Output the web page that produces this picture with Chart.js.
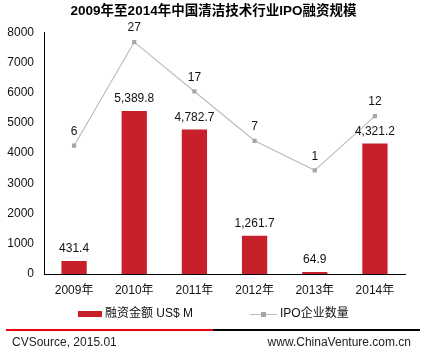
<!DOCTYPE html>
<html>
<head>
<meta charset="utf-8">
<script src="https://cdn.jsdelivr.net/npm/chart.js@4.4.1/dist/chart.umd.min.js"></script>
<style>
  body { margin: 0; background: #fff; }
  #wrap { width: 427px; height: 353px; }
</style>
</head>
<body>
<div id="wrap"><canvas id="myChart" width="427" height="353"></canvas></div>
<script>
  'use strict'

  const years = ['2009年', '2010年', '2011年', '2012年', '2013年', '2014年'];
  const amounts = [431.4, 5389.8, 4782.7, 1261.7, 64.9, 4321.2];
  const ipoCounts = [6, 27, 17, 7, 1, 12];
  const yTicks = [0, 1000, 2000, 3000, 4000, 5000, 6000, 7000, 8000];

  const FONT = "'Liberation Sans', Arial, 'Noto Sans CJK SC', sans-serif";
  const RED = '#C8202A';
  const GREY_LINE = '#BDBDBD';
  const GREY_DOT = '#A6A6A6';

  // value labels, legend and footer drawn on top of the chart
  const extras = {
    id: 'extras',
    afterDatasetsDraw(chart) {
      const c = chart.ctx;
      c.save();
      c.font = '12px ' + FONT;
      c.fillStyle = '#111';
      c.textAlign = 'center';
      c.textBaseline = 'middle';
      chart.getDatasetMeta(0).data.forEach((el, i) => {
        const txt = amounts[i].toLocaleString('en-US', { minimumFractionDigits: 1 });
        c.fillText(txt, el.x, el.y - 12);
      });
      chart.getDatasetMeta(1).data.forEach((el, i) => {
        c.fillText(String(ipoCounts[i]), el.x, el.y - 14);
      });
      c.restore();
    },
    afterDraw(chart) {
      const c = chart.ctx;
      const W = chart.width;
      c.save();

      // legend
      c.font = '12px ' + FONT;
      c.textBaseline = 'middle';
      const ly = 314;
      const t1 = chart.data.datasets[0].label;
      const t2 = chart.data.datasets[1].label;
      const w1 = 24 + 3 + c.measureText(t1).width;
      const w2 = 27 + 3 + c.measureText(t2).width;
      const gap = 57;
      let x = Math.round((W - (w1 + gap + w2)) / 2);
      c.fillStyle = RED;
      c.fillRect(x, ly - 3, 24, 6);
      c.fillStyle = '#111';
      c.textAlign = 'left';
      c.fillText(t1, x + 27, ly);
      x += w1 + gap;
      c.strokeStyle = GREY_LINE;
      c.lineWidth = 1;
      c.beginPath();
      c.moveTo(x, ly + 0.5);
      c.lineTo(x + 27, ly + 0.5);
      c.stroke();
      c.fillStyle = GREY_DOT;
      c.fillRect(x + 11, ly - 2, 5, 5);
      c.fillStyle = '#111';
      c.fillText(t2, x + 30, ly);

      // footer
      c.fillStyle = '#F0000C';
      c.fillRect(6, 329, 207, 2);
      c.fillStyle = '#000';
      c.fillRect(213, 329, 207, 2);
      c.fillStyle = '#222';
      c.textAlign = 'left';
      c.fillText('CVSource, 2015.01', 12, 343);
      c.textAlign = 'right';
      c.fillText('www.ChinaVenture.com.cn', 411, 343);
      c.restore();
    }
  };

  const ctx = document.getElementById('myChart');

  new Chart(ctx, {
    type: 'bar',
    data: {
      labels: years,
      datasets: [{
        type: 'bar',
        label: '融资金额 US$ M',
        data: amounts,
        backgroundColor: RED,
        barPercentage: 0.84,
        categoryPercentage: 0.5,
        yAxisID: 'y'
      }, {
        type: 'line',
        label: 'IPO企业数量',
        data: ipoCounts,
        borderColor: GREY_LINE,
        borderWidth: 1.2,
        pointStyle: 'rect',
        pointRadius: 3,
        pointBackgroundColor: GREY_DOT,
        pointBorderColor: GREY_DOT,
        pointBorderWidth: 0,
        tension: 0,
        yAxisID: 'y1'
      }]
    },
    options: {
      responsive: false,
      animation: false,
      events: [],
      layout: {
        padding: { left: 0, right: 0, top: 0, bottom: 55 }
      },
      scales: {
        x: {
          grid: { display: false, drawTicks: false },
          border: { display: true, color: '#000', width: 1 },
          afterFit: (axis) => { axis.height = 24; },
          ticks: {
            color: '#111',
            padding: 9,
            font: { family: FONT, size: 12 }
          }
        },
        y: {
          min: 0,
          max: 8000,
          grid: { display: false, drawTicks: false },
          border: { display: true, color: '#000', width: 1 },
          afterBuildTicks: (axis) => {
            axis.ticks = yTicks.map(v => ({ value: v }));
          },
          afterFit: (axis) => { axis.width = 44; },
          ticks: {
            color: '#111',
            padding: 10,
            font: { family: FONT, size: 12 },
            callback: (v) => String(v)
          }
        },
        // hidden count axis, kept in layout only to hold the right margin
        y1: {
          position: 'right',
          min: -20,
          max: 29,
          grid: { display: false, drawTicks: false },
          border: { display: false },
          ticks: { display: false },
          afterFit: (axis) => { axis.width = 22; }
        }
      },
      plugins: {
        legend: { display: false },
        tooltip: { enabled: false },
        title: {
          display: true,
          text: '2009年至2014年中国清洁技术行业IPO融资规模',
          color: '#000',
          font: { family: FONT, size: 13.5, weight: 'bold' },
          padding: { top: 3, bottom: 13 }
        }
      }
    },
    plugins: [extras]
  });
</script>
</body>
</html>
